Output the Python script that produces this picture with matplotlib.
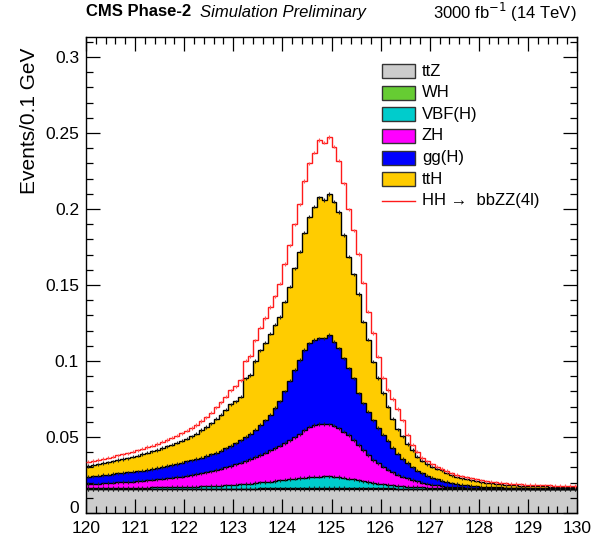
import numpy as np
import matplotlib.pyplot as plt
from matplotlib.patches import Rectangle
from matplotlib.lines import Line2D
from matplotlib.ticker import MultipleLocator, FuncFormatter

plt.rcParams['font.family'] = ['Liberation Sans', 'DejaVu Sans']

# m4l bins, 120-130 GeV in 0.1 GeV steps
edges = np.linspace(120.0, 130.0, 101)
centers = 0.5 * (edges[:-1] + edges[1:])

# expected events per bin for each process
ttZ = [
    0.0158, 0.0158, 0.0158, 0.0158, 0.0158, 0.0158, 0.0158, 0.0158, 0.0158, 0.0158,
    0.0158, 0.0158, 0.0158, 0.0158, 0.0158, 0.0158, 0.0158, 0.0158, 0.0158, 0.0158,
    0.0158, 0.0158, 0.0158, 0.0158, 0.0158, 0.0158, 0.0158, 0.0158, 0.0158, 0.0158,
    0.0158, 0.0158, 0.0158, 0.0158, 0.0158, 0.0158, 0.0158, 0.0158, 0.0158, 0.0158,
    0.0158, 0.0158, 0.0158, 0.0158, 0.0158, 0.0158, 0.0158, 0.0158, 0.0158, 0.0158,
    0.0158, 0.0158, 0.0158, 0.0158, 0.0158, 0.0158, 0.0158, 0.0158, 0.0158, 0.0158,
    0.0158, 0.0158, 0.0158, 0.0158, 0.0158, 0.0158, 0.0158, 0.0158, 0.0158, 0.0158,
    0.0158, 0.0158, 0.0158, 0.0158, 0.0158, 0.0158, 0.0158, 0.0158, 0.0158, 0.0158,
    0.0158, 0.0158, 0.0158, 0.0158, 0.0158, 0.0158, 0.0158, 0.0158, 0.0158, 0.0158,
    0.0158, 0.0158, 0.0158, 0.0158, 0.0158, 0.0158, 0.0158, 0.0158, 0.0158, 0.0158,
]
WH = [
    0.0001, 0.0001, 0.0001, 0.0001, 0.0001, 0.0001, 0.0001, 0.0001, 0.0001, 0.0001,
    0.0001, 0.0001, 0.0001, 0.0001, 0.0001, 0.0001, 0.0001, 0.0001, 0.0001, 0.0001,
    0.0002, 0.0002, 0.0002, 0.0002, 0.0002, 0.0002, 0.0002, 0.0002, 0.0002, 0.0002,
    0.0003, 0.0003, 0.0003, 0.0003, 0.0003, 0.0004, 0.0004, 0.0004, 0.0004, 0.0004,
    0.0005, 0.0005, 0.0005, 0.0005, 0.0005, 0.0006, 0.0006, 0.0006, 0.0006, 0.0007,
    0.0006, 0.0006, 0.0006, 0.0005, 0.0005, 0.0005, 0.0005, 0.0005, 0.0004, 0.0004,
    0.0004, 0.0004, 0.0004, 0.0003, 0.0003, 0.0003, 0.0003, 0.0003, 0.0002, 0.0002,
    0.0002, 0.0002, 0.0002, 0.0002, 0.0002, 0.0001, 0.0001, 0.0001, 0.0001, 0.0001,
    0.0001, 0.0001, 0.0001, 0.0001, 0.0001, 0.0001, 0.0001, 0.0001, 0.0001, 0.0001,
    0.0001, 0.0001, 0.0001, 0.0001, 0.0001, 0.0001, 0.0001, 0.0001, 0.0001, 0.0001,
]
VBF = [
    0.0005, 0.0005, 0.0005, 0.0006, 0.0006, 0.0006, 0.0006, 0.0007, 0.0007, 0.0007,
    0.0008, 0.0008, 0.0008, 0.0009, 0.0009, 0.0010, 0.0010, 0.0011, 0.0011, 0.0012,
    0.0012, 0.0013, 0.0014, 0.0015, 0.0016, 0.0017, 0.0018, 0.0020, 0.0021, 0.0023,
    0.0025, 0.0027, 0.0030, 0.0033, 0.0036, 0.0039, 0.0042, 0.0045, 0.0049, 0.0053,
    0.0057, 0.0061, 0.0064, 0.0067, 0.0070, 0.0073, 0.0075, 0.0076, 0.0077, 0.0077,
    0.0075, 0.0072, 0.0068, 0.0063, 0.0058, 0.0052, 0.0046, 0.0040, 0.0035, 0.0030,
    0.0026, 0.0022, 0.0019, 0.0016, 0.0014, 0.0012, 0.0010, 0.0009, 0.0008, 0.0007,
    0.0006, 0.0005, 0.0005, 0.0004, 0.0004, 0.0003, 0.0003, 0.0003, 0.0002, 0.0002,
    0.0002, 0.0002, 0.0002, 0.0002, 0.0002, 0.0002, 0.0002, 0.0002, 0.0002, 0.0002,
    0.0001, 0.0001, 0.0001, 0.0001, 0.0001, 0.0001, 0.0001, 0.0001, 0.0001, 0.0001,
]
ZH = [
    0.0026, 0.0028, 0.0029, 0.0030, 0.0032, 0.0034, 0.0036, 0.0037, 0.0039, 0.0041,
    0.0043, 0.0046, 0.0049, 0.0051, 0.0054, 0.0056, 0.0060, 0.0062, 0.0066, 0.0069,
    0.0073, 0.0077, 0.0082, 0.0087, 0.0092, 0.0098, 0.0105, 0.0111, 0.0119, 0.0127,
    0.0134, 0.0143, 0.0152, 0.0161, 0.0171, 0.0181, 0.0193, 0.0205, 0.0217, 0.0228,
    0.0240, 0.0254, 0.0270, 0.0288, 0.0313, 0.0331, 0.0340, 0.0345, 0.0344, 0.0341,
    0.0336, 0.0321, 0.0303, 0.0287, 0.0259, 0.0232, 0.0205, 0.0179, 0.0152, 0.0135,
    0.0117, 0.0101, 0.0087, 0.0076, 0.0065, 0.0055, 0.0047, 0.0038, 0.0031, 0.0025,
    0.0020, 0.0016, 0.0012, 0.0010, 0.0008, 0.0008, 0.0006, 0.0005, 0.0005, 0.0004,
    0.0003, 0.0003, 0.0002, 0.0002, 0.0002, 0.0001, 0.0001, 0.0001, 0.0001, 0.0001,
    0.0001, 0.0001, 0.0001, 0.0001, 0.0001, 0.0001, 0.0001, 0.0001, 0.0001, 0.0001,
]
ggH = [
    0.0049, 0.0050, 0.0052, 0.0054, 0.0055, 0.0057, 0.0059, 0.0060, 0.0062, 0.0064,
    0.0065, 0.0066, 0.0067, 0.0070, 0.0073, 0.0077, 0.0080, 0.0084, 0.0087, 0.0091,
    0.0094, 0.0097, 0.0100, 0.0103, 0.0107, 0.0110, 0.0112, 0.0119, 0.0125, 0.0130,
    0.0138, 0.0147, 0.0157, 0.0165, 0.0180, 0.0196, 0.0213, 0.0236, 0.0262, 0.0292,
    0.0340, 0.0392, 0.0443, 0.0489, 0.0526, 0.0548, 0.0559, 0.0564, 0.0564, 0.0588,
    0.0552, 0.0526, 0.0483, 0.0439, 0.0406, 0.0340, 0.0307, 0.0285, 0.0261, 0.0233,
    0.0210, 0.0190, 0.0162, 0.0137, 0.0115, 0.0100, 0.0082, 0.0070, 0.0061, 0.0053,
    0.0046, 0.0041, 0.0035, 0.0029, 0.0024, 0.0020, 0.0017, 0.0014, 0.0012, 0.0011,
    0.0010, 0.0008, 0.0008, 0.0006, 0.0005, 0.0005, 0.0004, 0.0004, 0.0003, 0.0003,
    0.0003, 0.0003, 0.0003, 0.0002, 0.0002, 0.0002, 0.0002, 0.0002, 0.0001, 0.0001,
]
ttH = [
    0.0071, 0.0073, 0.0075, 0.0079, 0.0082, 0.0084, 0.0088, 0.0092, 0.0093, 0.0099,
    0.0103, 0.0109, 0.0115, 0.0116, 0.0120, 0.0126, 0.0129, 0.0134, 0.0139, 0.0144,
    0.0151, 0.0158, 0.0166, 0.0180, 0.0190, 0.0205, 0.0225, 0.0238, 0.0255, 0.0275,
    0.0277, 0.0287, 0.0386, 0.0388, 0.0452, 0.0492, 0.0510, 0.0532, 0.0550, 0.0555,
    0.0590, 0.0620, 0.0670, 0.0713, 0.0772, 0.0834, 0.0877, 0.0928, 0.0911, 0.0928,
    0.0921, 0.0897, 0.0812, 0.0734, 0.0684, 0.0653, 0.0539, 0.0473, 0.0386, 0.0328,
    0.0275, 0.0225, 0.0190, 0.0160, 0.0150, 0.0127, 0.0115, 0.0092, 0.0085, 0.0077,
    0.0073, 0.0070, 0.0068, 0.0062, 0.0054, 0.0050, 0.0045, 0.0044, 0.0040, 0.0036,
    0.0031, 0.0028, 0.0026, 0.0024, 0.0022, 0.0019, 0.0018, 0.0016, 0.0015, 0.0013,
    0.0013, 0.0012, 0.0011, 0.0012, 0.0011, 0.0010, 0.0010, 0.0009, 0.0010, 0.0008,
]
HH = [
    0.0028, 0.0028, 0.0029, 0.0029, 0.0030, 0.0030, 0.0031, 0.0032, 0.0033, 0.0034,
    0.0035, 0.0036, 0.0037, 0.0038, 0.0040, 0.0041, 0.0043, 0.0045, 0.0047, 0.0049,
    0.0052, 0.0055, 0.0058, 0.0061, 0.0065, 0.0070, 0.0075, 0.0080, 0.0086, 0.0092,
    0.0099, 0.0107, 0.0116, 0.0126, 0.0137, 0.0150, 0.0162, 0.0175, 0.0185, 0.0220,
    0.0248, 0.0272, 0.0290, 0.0310, 0.0340, 0.0350, 0.0355, 0.0377, 0.0376, 0.0375,
    0.0362, 0.0338, 0.0339, 0.0312, 0.0290, 0.0265, 0.0255, 0.0184, 0.0188, 0.0140,
    0.0100, 0.0110, 0.0130, 0.0135, 0.0105, 0.0060, 0.0035, 0.0033, 0.0018, 0.0018,
    0.0015, 0.0013, 0.0012, 0.0012, 0.0012, 0.0011, 0.0011, 0.0010, 0.0010, 0.0010,
    0.0009, 0.0009, 0.0009, 0.0009, 0.0009, 0.0009, 0.0009, 0.0009, 0.0009, 0.0009,
    0.0008, 0.0008, 0.0008, 0.0008, 0.0008, 0.0007, 0.0007, 0.0007, 0.0007, 0.0007,
]

labels = ["ttZ", "WH", "VBF(H)", "ZH", "gg(H)", "ttH"]
colors = ["#cccccc", "#66cc33", "#00cccc", "#ff00ff", "#0000ff", "#ffcc00"]
stack = [ttZ, WH, VBF, ZH, ggH, ttH]

W, H = 594, 540
fig = plt.figure(figsize=(W / 100, H / 100), dpi=100)
ax = fig.add_axes([86 / W, 1 - 513 / H, (577 - 86) / W, (513 - 37) / H])

ERR = 0.0011  # half length of the stat. error ticks

bottom = np.zeros(len(centers))
tops = []
for vals, col in zip(stack, colors):
    top = bottom + np.array(vals)
    ax.stairs(top, edges, baseline=bottom, fill=True, color=col, lw=0, zorder=1)
    tops.append(top)
    bottom = top

for top in tops:
    ax.stairs(top, edges, baseline=None, color="black", lw=1.0, zorder=2)
    ax.vlines(centers, top - ERR, top + ERR, color="#222222", lw=0.8, zorder=2)

total = bottom + np.array(HH)
ax.stairs(total, edges, baseline=None, color="#ff1a1a", lw=1.0, zorder=3)
ax.vlines(centers, total - ERR, total + ERR, color="#ff5555", lw=0.8, zorder=3)

ax.set_xlim(120, 130)
ax.set_ylim(0, 0.3132)
ax.xaxis.set_major_locator(MultipleLocator(1))
ax.xaxis.set_minor_locator(MultipleLocator(0.2))
ax.yaxis.set_major_locator(MultipleLocator(0.05))
ax.yaxis.set_minor_locator(MultipleLocator(0.01))
ax.xaxis.set_major_formatter(FuncFormatter(lambda v, p: f"{v:.0f}"))
# the zero label is placed by hand a little higher, clear of "120"
ax.yaxis.set_major_formatter(FuncFormatter(lambda v, p: "" if abs(v) < 1e-9 else f"{v:g}"))
ax.tick_params(which="both", direction="in", top=True, right=True, width=0.9)
ax.tick_params(which="major", length=10, labelsize=12.5, pad=5)
ax.tick_params(axis="x", which="major", pad=6)
ax.tick_params(which="minor", length=5)
for sp in ax.spines.values():
    sp.set_linewidth(1.0)
ax.annotate("0", xy=(0, 0), xycoords="axes fraction", xytext=(-5, 3),
            textcoords="offset points", ha="right", va="center", fontsize=12.5)

fig.text(30 / W, 1 - 48 / H, "Events/0.1 GeV", rotation=90,
         ha="center", va="top", fontsize=15)

fig.text(86 / W, 1 - 12 / H, "CMS Phase-2", fontsize=12, fontweight="bold",
         ha="left", va="center")
fig.text(200 / W, 1 - 12 / H, "Simulation Preliminary", fontsize=12,
         style="italic", ha="left", va="center")
fig.text(577 / W, 1 - 12 / H, "3000 fb$^{-1}$ (14 TeV)", fontsize=12,
         ha="right", va="center")

# legend, drawn by hand in figure pixels
rows = [71, 92.7, 114.3, 136, 157.7, 179.3]
for y, lab, col in zip(rows, labels, colors):
    fig.add_artist(Rectangle((382 / W, 1 - (y + 7) / H), 33 / W, 14 / H,
                             transform=fig.transFigure, facecolor=col,
                             edgecolor="#333333", lw=1.0))
    fig.text(422 / W, 1 - y / H, lab, fontsize=12, ha="left", va="center")
fig.add_artist(Line2D([382 / W, 415 / W], [1 - 201 / H, 1 - 201 / H],
                      transform=fig.transFigure, color="#ff1a1a", lw=1.0))
fig.text(422 / W, 1 - 201 / H, "HH \u2192  bbZZ(4l)", fontsize=12,
         ha="left", va="center")

fig.savefig("out.png", dpi=100)
